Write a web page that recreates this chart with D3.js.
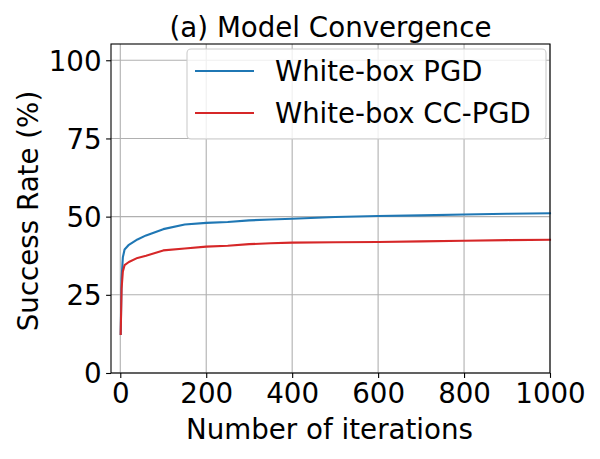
<!DOCTYPE html>
<html><head><meta charset="utf-8">
<script src="https://cdn.jsdelivr.net/npm/d3@7"></script>
<style>body{margin:0;background:#fff}svg{display:block}text{font-family:"DejaVu Sans",sans-serif}</style>
</head><body><svg id="c" width="600" height="459"></svg>
<script>
const iterations = [1,3,6,10,20,40,60,100,150,200,250,300,350,400,500,600,700,800,900,1000];
const pgd   = [12.5,30,37,39.5,41,42.7,44,46,47.5,48,48.3,48.8,49.1,49.3,49.9,50.2,50.4,50.7,50.9,51.1];
const ccpgd = [12.5,27,32.5,34.5,35.5,36.8,37.5,39.2,39.8,40.4,40.7,41.2,41.5,41.7,41.8,41.9,42.1,42.3,42.5,42.6];
const xTicks = [0,200,400,600,800,1000];
const yTicks = [0,25,50,75,100];
const seriesNames = ["White-box PGD","White-box CC-PGD"];
const colors = ["#1f77b4","#d62728"];

const svg = d3.select("#c");
const L=111,R=550,T=44,B=373;
const x = d3.scaleLinear().domain([-21.6,1000]).range([L,R]);
const y = d3.scaleLinear().domain([0,105.2]).range([B,T]);

// grid
const g = svg.append("g");
g.selectAll(".gx").data(xTicks).join("line").attr("x1",d=>x(d)).attr("x2",d=>x(d)).attr("y1",T).attr("y2",B).attr("stroke","#b0b0b0").attr("stroke-width",1.1);
g.selectAll(".gy").data(yTicks).join("line").attr("y1",d=>y(d)).attr("y2",d=>y(d)).attr("x1",L).attr("x2",R).attr("stroke","#b0b0b0").attr("stroke-width",1.1);

// lines
const series=[pgd,ccpgd];
const line = d3.line().x((d,i)=>x(iterations[i])).y(d=>y(d));
series.forEach((s,k)=>{
  svg.append("path").datum(s).attr("d",line).attr("fill","none").attr("stroke",colors[k]).attr("stroke-width",2.1).attr("stroke-linejoin","round").attr("stroke-linecap","square");
});

// axes
const xa = svg.append("g").attr("transform",`translate(0,${B})`).call(d3.axisBottom(x).tickValues(xTicks).tickSize(4.9).tickPadding(4).tickFormat(d3.format("d")));
const ya = svg.append("g").attr("transform",`translate(${L},0)`).call(d3.axisLeft(y).tickValues(yTicks).tickSize(4.9).tickPadding(4.5).tickFormat(d3.format("d")));
[xa,ya].forEach(a=>{a.select(".domain").remove();a.selectAll("line").attr("stroke","#000").attr("stroke-width",1.1);a.selectAll("text").attr("font-size","27.7px").attr("fill","#000").attr("font-family","DejaVu Sans");});
xa.selectAll("text").attr("dy","0.76em");
ya.selectAll("text").attr("dy","0.36em");
svg.append("rect").attr("x",L).attr("y",T).attr("width",R-L).attr("height",B-T).attr("fill","none").attr("stroke","#000").attr("stroke-width",1.1);

// legend
const lg = svg.append("g");
lg.append("rect").attr("x",187).attr("y",49).attr("width",359).attr("height",90).attr("rx",4).attr("fill","#fff").attr("fill-opacity",0.8).attr("stroke","#cccccc").attr("stroke-width",1.1);
seriesNames.forEach((n,k)=>{
  const yy = 71 + k*42;
  lg.append("line").attr("x1",195).attr("x2",254).attr("y1",yy).attr("y2",yy).attr("stroke",colors[k]).attr("stroke-width",2.1);
  lg.append("text").attr("x",275).attr("y",yy).attr("dy","0.36em").attr("font-size","27.5px").text(n);
});

// labels
svg.append("text").attr("x",(L+R)/2).attr("y",37).attr("text-anchor","middle").attr("font-size","27.7px").text("(a) Model Convergence");
svg.append("text").attr("x",329.5).attr("y",439).attr("text-anchor","middle").attr("font-size","27.7px").text("Number of iterations");
svg.append("text").attr("transform","translate(38,211) rotate(-90)").attr("text-anchor","middle").attr("font-size","27.7px").text("Success Rate (%)");
</script></body></html>
